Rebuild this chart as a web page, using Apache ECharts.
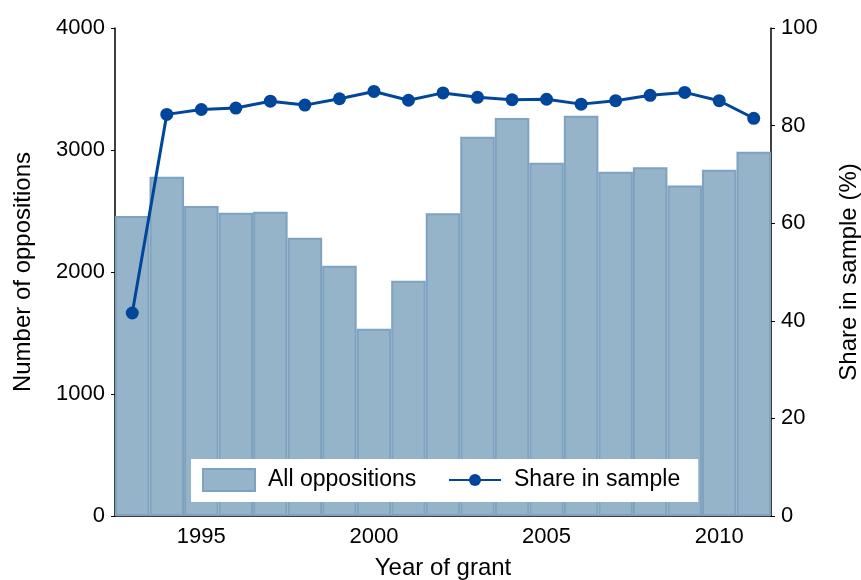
<!DOCTYPE html>
<html>
<head>
<meta charset="utf-8">
<script src="https://cdn.jsdelivr.net/npm/echarts@6/dist/echarts.min.js"></script>
<style>
  html, body { margin: 0; padding: 0; background: #fff; }
  #main { width: 861px; height: 580px; }
</style>
</head>
<body>
<div id="main"></div>
<script>
// data
var years = ['1993', '1994', '1995', '1996', '1997', '1998', '1999', '2000', '2001', '2002',
             '2003', '2004', '2005', '2006', '2007', '2008', '2009', '2010', '2011'];
var oppositions = [2460, 2780, 2542, 2486, 2494, 2281, 2052, 1535, 1928, 2481,
                   3109, 3262, 2896, 3281, 2822, 2858, 2710, 2839, 2986];
var shareInSample = [41.6, 82.3, 83.3, 83.6, 85.0, 84.2, 85.5, 87.0, 85.2, 86.7,
                     85.8, 85.3, 85.4, 84.4, 85.1, 86.2, 86.8, 85.1, 81.5];
var leftTicks = [0, 1000, 2000, 3000, 4000];
var rightTicks = [0, 20, 40, 60, 80, 100];

var font = 'Liberation Sans, Arial, sans-serif';
var barFill = '#95b3c9';
var barEdge = '#7ea2bf';
var lineColor = '#00479b';

var showYear = function (idx, val) {
    return Number(val) % 5 === 0;
};
//不要千分位逗号
var plain = function (v) { return String(v); };

var legendText = { fontFamily: font, fontSize: 23, lineHeight: 24, color: '#000', padding: [0, 0, 0, 8] };

var myChart = echarts.init(document.getElementById('main'));
var option = {
    animation: false,
    grid: { left: 115, right: 90, top: 28, bottom: 64, outerBoundsMode: 'none' },
    //两个图例拼成一个白框, 圆点可以小一点
    legend: [{
        left: 191,
        top: 459,
        backgroundColor: '#ffffff',
        padding: [9, 1, 10, 11],
        itemWidth: 52,
        itemHeight: 22,
        textStyle: legendText,
        data: [{ name: 'All oppositions', icon: 'rect' }]
    }, {
        left: 413,
        top: 459,
        backgroundColor: '#ffffff',
        padding: [9, 18, 10, 35],
        itemWidth: 52,
        itemHeight: 15,
        textStyle: legendText,
        data: ['Share in sample']
    }],
    xAxis: {
        type: 'category',
        data: years,
        boundaryGap: true,
        name: 'Year of grant',
        nameLocation: 'middle',
        nameGap: 40,
        nameTextStyle: { fontFamily: font, fontSize: 24, color: '#000' },
        axisLine: { lineStyle: { color: '#000', width: 1.5 } },
        axisTick: { interval: showYear, alignWithLabel: true, length: 4, lineStyle: { color: '#000' } },
        axisLabel: { interval: showYear, fontFamily: font, fontSize: 22, color: '#000', margin: 10 }
    },
    yAxis: [{
        type: 'value',
        min: 0,
        max: 4000,
        interval: 1000,
        name: 'Number of oppositions',
        nameLocation: 'middle',
        nameGap: 80,
        nameTextStyle: { fontFamily: font, fontSize: 24, color: '#000' },
        axisLine: { show: true, lineStyle: { color: '#000', width: 1.5 } },
        axisTick: { show: true, length: 4, lineStyle: { color: '#000' } },
        axisLabel: { fontFamily: font, fontSize: 22, color: '#000', margin: 10, formatter: plain },
        splitLine: { show: false }
    }, {
        type: 'value',
        min: 0,
        max: 100,
        interval: 20,
        position: 'right',
        name: 'Share in sample (%)',
        nameLocation: 'middle',
        nameGap: 66,
        nameRotate: 90,
        nameTextStyle: { fontFamily: font, fontSize: 24, color: '#000' },
        axisLine: { show: true, lineStyle: { color: '#000', width: 1.5 } },
        axisTick: { show: true, length: 4, lineStyle: { color: '#000' } },
        axisLabel: { fontFamily: font, fontSize: 22, color: '#000', margin: 10, formatter: plain },
        splitLine: { show: false }
    }],
    series: [{
        name: 'All oppositions',
        type: 'bar',
        data: oppositions,
        barCategoryGap: '0%',
        itemStyle: { color: barFill, borderColor: barEdge, borderWidth: 2 },
        z: 1
    }, {
        name: 'Share in sample',
        type: 'line',
        yAxisIndex: 1,
        data: shareInSample,
        symbol: 'circle',
        symbolSize: 13,
        lineStyle: { color: lineColor, width: 3 },
        itemStyle: { color: lineColor },
        z: 3
    }]
};
myChart.setOption(option);
</script>
</body>
</html>
